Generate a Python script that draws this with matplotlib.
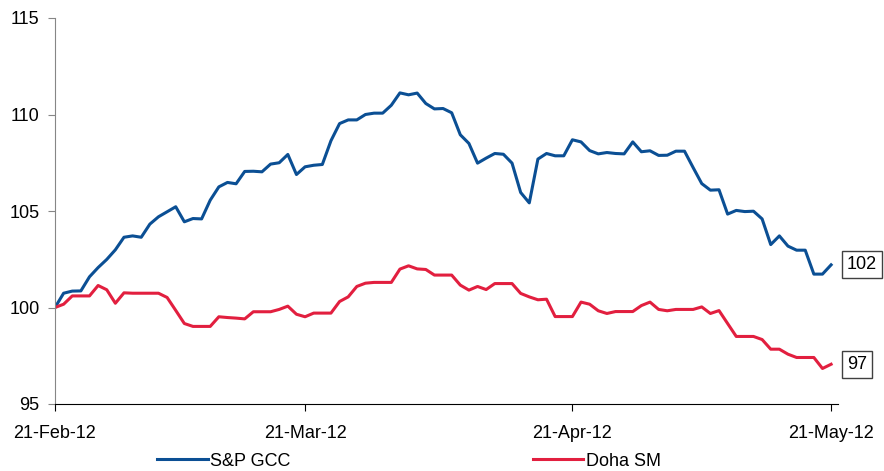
import numpy as np
import pandas as pd
import matplotlib
matplotlib.use("Agg")
import matplotlib.pyplot as plt
import matplotlib.dates as mdates

plt.rcParams['font.family'] = ['Liberation Sans', 'DejaVu Sans']

# Données (indice base 100, quotidien)
start = "2012-02-21"
series_names = ["S&P GCC", "Doha SM"]
gcc = [100.0, 100.74, 100.85, 100.86, 101.59, 102.07, 102.49, 102.99, 103.64, 103.71,
       103.64, 104.32, 104.70, 104.96, 105.22, 104.44, 104.61, 104.59, 105.56, 106.25,
       106.48, 106.41, 107.05, 107.06, 107.03, 107.43, 107.50, 107.93, 106.89, 107.29,
       107.37, 107.41, 108.64, 109.53, 109.72, 109.72, 110.00, 110.07, 110.07, 110.48,
       111.12, 111.02, 111.11, 110.57, 110.29, 110.31, 110.09, 108.95, 108.50, 107.48,
       107.74, 107.98, 107.94, 107.48, 105.96, 105.42, 107.69, 107.98, 107.86, 107.86,
       108.69, 108.58, 108.13, 107.96, 108.03, 107.98, 107.96, 108.58, 108.07, 108.12,
       107.88, 107.89, 108.10, 108.10, 107.25, 106.42, 106.08, 106.10, 104.84, 105.03,
       104.97, 104.99, 104.59, 103.26, 103.71, 103.18, 102.97, 102.97, 101.73, 101.73,
       102.21]
doha = [100.0, 100.17, 100.60, 100.60, 100.60, 101.14, 100.92, 100.22, 100.76, 100.74,
        100.74, 100.74, 100.74, 100.52, 99.85, 99.17, 99.02, 99.02, 99.02, 99.52,
        99.48, 99.45, 99.41, 99.78, 99.78, 99.78, 99.90, 100.07, 99.65, 99.52,
        99.71, 99.71, 99.71, 100.31, 100.55, 101.09, 101.26, 101.30, 101.30, 101.30,
        101.99, 102.16, 102.00, 101.97, 101.68, 101.68, 101.68, 101.16, 100.90, 101.09,
        100.93, 101.24, 101.24, 101.24, 100.73, 100.55, 100.40, 100.43, 99.53, 99.53,
        99.53, 100.28, 100.17, 99.83, 99.69, 99.79, 99.79, 99.79, 100.10, 100.28,
        99.90, 99.83, 99.90, 99.90, 99.90, 100.03, 99.69, 99.84, 99.17, 98.50,
        98.50, 98.50, 98.34, 97.84, 97.84, 97.58, 97.41, 97.41, 97.41, 96.84,
        97.06]
tick_dates = ["2012-02-21", "2012-03-21", "2012-04-21", "2012-05-21"]
y_ticks = [95, 100, 105, 110, 115]

dates = pd.date_range(start, periods=len(gcc), freq="D")
colors = ["#0B4F94", "#E21F3F"]

fig = plt.figure(figsize=(8.84, 4.71), dpi=100)
ax = fig.add_axes([55 / 884, 1 - 404 / 471, 783 / 884, 386 / 471])

lines = []
for vals, name, c in zip([gcc, doha], series_names, colors):
    l, = ax.plot(dates, vals, color=c, lw=2.2, label=name)
    lines.append(l)
    # étiquette de fin encadrée
    ax.annotate(f"{round(vals[-1])}", xy=(dates[-1], vals[-1]), xytext=(11.5, 0),
                textcoords="offset points", ha="left", va="center", fontsize=13,
                bbox=dict(boxstyle="square,pad=0.28", fc="white", ec="#404040", lw=1),
                annotation_clip=False)

ax.set_ylim(95, 115)
ax.set_yticks(y_ticks)
ax.set_xlim(pd.Timestamp(start), pd.Timestamp(start) + pd.Timedelta(days=90.8))
ax.set_xticks(pd.to_datetime(tick_dates))
ax.xaxis.set_major_formatter(mdates.DateFormatter("%d-%b-%y"))

for s in ["top", "right"]:
    ax.spines[s].set_visible(False)
ax.spines["left"].set_color("#868686")
ax.spines["bottom"].set_color("black")
ax.tick_params(axis="y", labelsize=13, length=5, color="#868686", pad=6)
ax.tick_params(axis="x", labelsize=13, length=5, color="black", pad=10)

fig.legend(handles=lines, loc="center left", bbox_to_anchor=(157 / 884, 1 - 461 / 471),
           ncol=2, frameon=False, fontsize=13, handlelength=2.8, handletextpad=0.15,
           columnspacing=13.4, borderpad=0, borderaxespad=0)

fig.savefig("out.png", dpi=100)
